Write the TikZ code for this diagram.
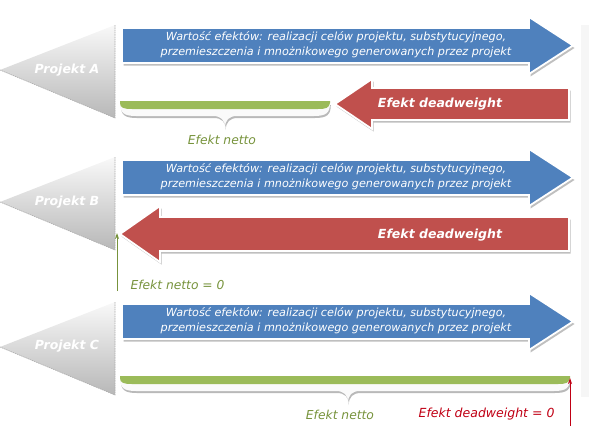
\documentclass[tikz,border=0pt]{standalone}
\usepackage{fontspec}
\setmainfont{DejaVu Sans}
\usetikzlibrary{arrows.meta}
\definecolor{oblue}{RGB}{79,129,189}
\definecolor{ored}{RGB}{192,80,77}
\definecolor{ogreen}{RGB}{155,187,89}
\definecolor{olive}{RGB}{119,147,60}
\definecolor{dred}{RGB}{192,0,20}
\newcommand\projtri[1]{%
  \begin{scope}[shift={(0,#1)}]
    \shade[top color=gray!5, middle color=gray!38, bottom color=gray!56] (0,45) -- (115,0) -- (115,93) -- cycle;
    \draw[gray!65, line width=0.6pt, dash pattern=on 1.5pt off 0.8pt] (115,0) -- (115,93) -- (0,45);
  \end{scope}}
\newcommand\bluearr[1]{%
  \begin{scope}[shift={(0,#1)}]
    \fill[gray!50, shift={(1.5,2.5)}] (122,28) -- (529,28) -- (529,17) -- (573,45.5) -- (529,74) -- (529,63) -- (122,63) -- cycle;
    \draw[white, line width=1.8pt, fill=oblue] (122,28) -- (529,28) -- (529,17) -- (573,45.5) -- (529,74) -- (529,63) -- (122,63) -- cycle;
  \end{scope}}
\newcommand\greenbrace[4]{% x1, x2, xc, ytop
  \begin{scope}[shift={(0,#4)}]
    \fill[gray!55, shift={(0.8,2)}] (#1,2) .. controls (#1,12) and (#1+4,15) .. (#1+16,15) -- (#3-12,15) .. controls (#3-4,15) and (#3,19) .. (#3,27) .. controls (#3,19) and (#3+4,15) .. (#3+12,15) -- (#2-16,15) .. controls (#2-4,15) and (#2,12) .. (#2,2) -- cycle;
    \fill[gray!4] (#1,2) .. controls (#1,12) and (#1+4,15) .. (#1+16,15) -- (#3-12,15) .. controls (#3-4,15) and (#3,19) .. (#3,27) .. controls (#3,19) and (#3+4,15) .. (#3+12,15) -- (#2-16,15) .. controls (#2-4,15) and (#2,12) .. (#2,2) -- cycle;
    \fill[ogreen] (#1,0) -- (#2,0) -- (#2,2) .. controls (#2-1,7) and (#2-4,8) .. (#2-12,8) -- (#1+12,8) .. controls (#1+4,8) and (#1,7) .. (#1,2) -- cycle;
  \end{scope}}
\tikzset{
  projlabel/.style={text=white, font=\fontsize{12.5}{14}\selectfont\bfseries\itshape},
  bluetext/.style={text=white, align=center, font=\fontsize{11.2}{15}\selectfont\itshape},
  redtext/.style={text=white, font=\fontsize{12.5}{14}\selectfont\bfseries\itshape},
  nettotext/.style={text=olive, font=\fontsize{12.3}{14}\selectfont\itshape},
  dwtext/.style={text=dred, font=\fontsize{12.5}{14}\selectfont\itshape},
  shadowfill/.style={fill=gray!50},
  redbody/.style={draw=white, line width=1.8pt, fill=ored}
}
\begin{document}
\begin{tikzpicture}[x=1pt,y=-1pt]
\useasboundingbox (0,0) rectangle (591,439);
% right light strip
\fill[gray!7] (581,25) rectangle (589,397);

% ---------- Projekt A ----------
\projtri{25}
\node[projlabel] (pa) at (67,70) {Projekt A};
\bluearr{0}
\node[bluetext] (ba) at (336,45) {Wartość efektów: realizacji celów projektu, substytucyjnego,\\przemieszczenia i mnożnikowego generowanych przez projekt};
\greenbrace{120}{330}{225}{101}
\node[nettotext] (na) at (222,140) {Efekt netto};
\fill[shadowfill, shift={(1.5,2.5)}] (335,104) -- (372,79) -- (372,88) -- (569,88) -- (569,120) -- (372,120) -- (372,129) -- cycle;
\draw[redbody] (335,104) -- (372,79) -- (372,88) -- (569,88) -- (569,120) -- (372,120) -- (372,129) -- cycle;
\node[redtext] (da) at (440,104) {Efekt deadweight};

% ---------- Projekt B ----------
\projtri{157}
\node[projlabel] (pb) at (67,202) {Projekt B};
\bluearr{132}
\node[bluetext] (bb) at (336,177) {Wartość efektów: realizacji celów projektu, substytucyjnego,\\przemieszczenia i mnożnikowego generowanych przez projekt};
\fill[shadowfill, shift={(1.5,2.5)}] (120,234) -- (160,206) -- (160,217) -- (569,217) -- (569,251) -- (160,251) -- (160,262) -- cycle;
\draw[redbody] (120,234) -- (160,206) -- (160,217) -- (569,217) -- (569,251) -- (160,251) -- (160,262) -- cycle;
\node[redtext] (db) at (440,235) {Efekt deadweight};
\coordinate (gbs) at (117,291);
\coordinate (gbe) at (117,233);
\draw[olive, line width=0.8pt, -{Stealth[length=6pt,width=4pt]}] (gbs) -- (gbe);
\node[nettotext, anchor=west] (nb) at (127,285) {Efekt netto = 0};

% ---------- Projekt C ----------
\projtri{302}
\node[projlabel] (pc) at (67,346) {Projekt C};
\bluearr{276}
\node[bluetext] (bc) at (336,321) {Wartość efektów: realizacji celów projektu, substytucyjnego,\\przemieszczenia i mnożnikowego generowanych przez projekt};
\greenbrace{120}{570}{348}{376}
\node[nettotext] (nc) at (340,415) {Efekt netto};
\node[dwtext, anchor=east] (dc) at (558,414) {Efekt deadweight = 0};
\coordinate (rcs) at (570,426);
\coordinate (rce) at (570,378);
\draw[dred, line width=0.8pt, -{Stealth[length=6pt,width=4pt]}] (rcs) -- (rce);
\end{tikzpicture}
\end{document}
